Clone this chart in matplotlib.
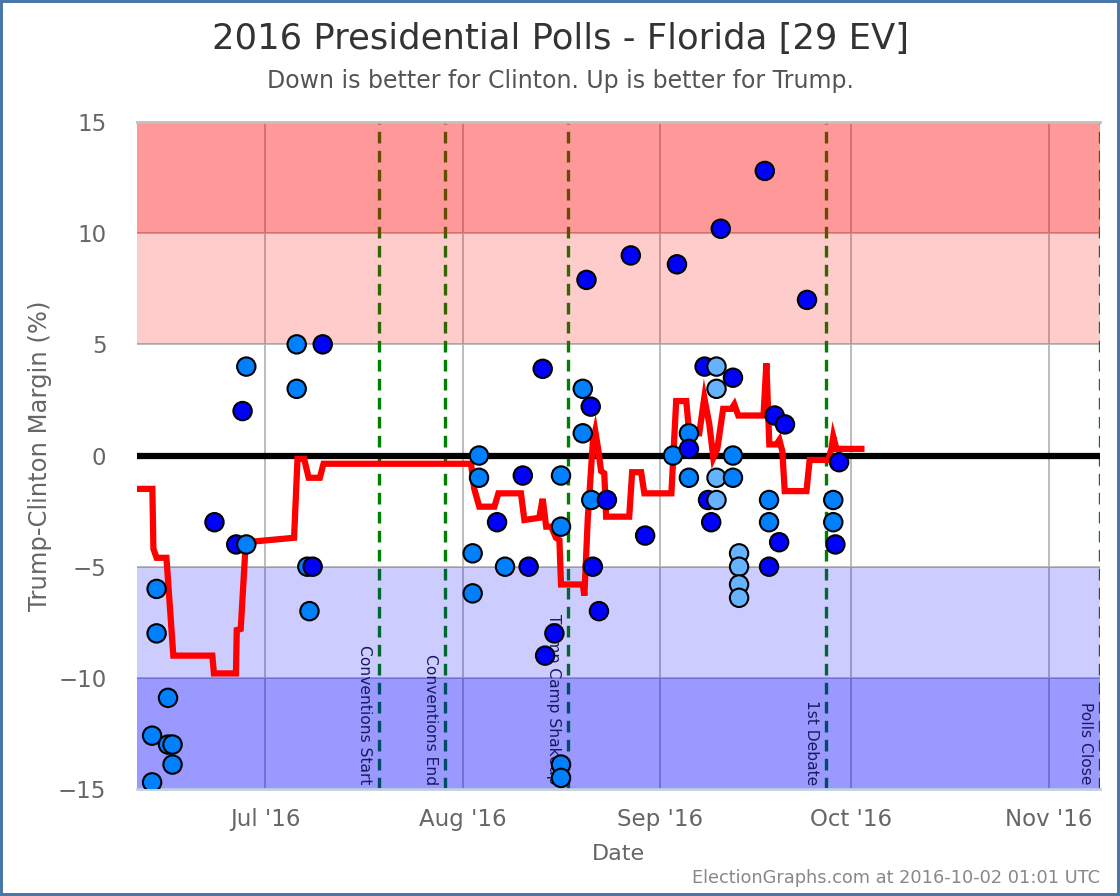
import matplotlib
matplotlib.use("Agg")
import matplotlib.pyplot as plt
import matplotlib.dates as mdates
import pandas as pd

plt.rcParams['font.family'] = ['DejaVu Sans']

# poll results (mid date, Trump-Clinton margin, shade)
poll_dates = [
    "2016-06-13 22:00", "2016-06-13 22:00", "2016-06-15 17:00", "2016-06-13 05:00",
    "2016-06-15 17:00", "2016-06-16 10:00", "2016-06-16 10:00", "2016-06-13 05:00",
    "2016-06-23 00:00", "2016-06-26 10:00", "2016-06-28 00:00", "2016-06-27 10:00",
    "2016-06-28 00:00", "2016-07-05 22:00", "2016-07-05 22:00", "2016-07-10 00:00",
    "2016-07-07 14:00", "2016-07-08 10:00", "2016-07-07 22:00", "2016-08-02 13:00",
    "2016-08-02 13:00", "2016-08-03 13:00", "2016-08-03 13:00", "2016-08-06 09:00",
    "2016-08-07 15:00", "2016-08-10 10:00", "2016-08-11 08:00", "2016-08-13 13:00",
    "2016-08-13 22:00", "2016-08-15 09:00", "2016-08-16 10:00", "2016-08-16 10:00",
    "2016-08-16 10:00", "2016-08-16 10:00", "2016-08-19 20:00", "2016-08-19 20:00",
    "2016-08-20 10:00", "2016-08-21 02:00", "2016-08-21 04:00", "2016-08-21 10:00",
    "2016-08-22 09:00", "2016-08-23 15:00", "2016-08-27 09:00", "2016-08-29 15:00",
    "2016-09-03 00:00", "2016-09-03 15:00", "2016-09-05 12:00", "2016-09-05 12:00",
    "2016-09-05 12:00", "2016-09-07 23:00", "2016-09-08 12:00", "2016-09-09 00:00",
    "2016-09-09 20:00", "2016-09-09 20:00", "2016-09-09 20:00", "2016-09-09 20:00",
    "2016-09-10 12:00", "2016-09-12 10:00", "2016-09-12 10:00", "2016-09-12 10:00",
    "2016-09-13 09:00", "2016-09-13 09:00", "2016-09-13 09:00", "2016-09-13 09:00",
    "2016-09-17 10:00", "2016-09-18 02:00", "2016-09-18 02:00", "2016-09-18 02:00",
    "2016-09-18 23:00", "2016-09-19 16:00", "2016-09-20 14:00", "2016-09-24 01:00",
    "2016-09-28 04:00", "2016-09-28 04:00", "2016-09-28 12:00", "2016-09-29 02:00",
]
poll_margins = [
    -6.0, -8.0, -10.9, -12.6, -13.0, -13.0, -13.9, -14.7,
    -3.0, -4.0, -4.0, 2.0, 4.0, 5.0, 3.0, 5.0,
    -5.0, -5.0, -7.0, -4.4, -6.2, 0.0, -1.0, -3.0,
    -5.0, -0.9, -5.0, 3.9, -9.0, -8.0, -0.9, -3.2,
    -13.9, -14.5, 3.0, 1.0, 7.9, 2.2, -2.0, -5.0,
    -7.0, -2.0, 9.0, -3.6, 0.0, 8.6, 1.0, 0.3,
    -1.0, 4.0, -2.0, -3.0, 4.0, 3.0, -1.0, -2.0,
    10.2, 3.5, 0.0, -1.0, -4.4, -5.0, -5.8, -6.4,
    12.8, -2.0, -3.0, -5.0, 1.8, -3.9, 1.4, 7.0,
    -2.0, -3.0, -4.0, -0.3,
]
poll_shades = list(
    "mmmmmmmm" "ddmdmmmd" "mdmmmmmd" "mdddddmm" "mmmmddmd"
    "ddddmdmd" "mdddllll" "ddmmllll" "dmmddddd" "mmdd"
)

# poll average line
avg_dates = [
    "2016-06-11 02:00", "2016-06-13 06:00", "2016-06-13 10:00", "2016-06-13 22:00",
    "2016-06-15 11:00", "2016-06-16 13:00", "2016-06-22 16:00", "2016-06-22 22:00",
    "2016-06-26 09:00", "2016-06-26 12:00", "2016-06-27 03:00", "2016-06-27 22:00",
    "2016-07-05 12:00", "2016-07-06 01:00", "2016-07-07 02:00", "2016-07-07 19:00",
    "2016-07-09 13:00", "2016-07-10 03:00", "2016-08-02 07:00", "2016-08-02 19:00",
    "2016-08-03 14:00", "2016-08-05 23:00", "2016-08-06 14:00", "2016-08-10 03:00",
    "2016-08-10 16:00", "2016-08-13 00:00", "2016-08-13 13:00", "2016-08-14 02:00",
    "2016-08-14 21:00", "2016-08-15 15:00", "2016-08-16 04:00", "2016-08-16 10:00",
    "2016-08-19 20:00", "2016-08-20 02:00", "2016-08-20 15:00", "2016-08-21 10:00",
    "2016-08-21 19:00", "2016-08-22 06:00", "2016-08-22 17:00", "2016-08-23 05:00",
    "2016-08-23 12:00", "2016-08-27 03:00", "2016-08-27 14:00", "2016-08-29 00:00",
    "2016-08-29 12:00", "2016-09-02 18:00", "2016-09-03 12:00", "2016-09-05 02:00",
    "2016-09-05 13:00", "2016-09-07 03:00", "2016-09-07 22:00", "2016-09-08 17:00",
    "2016-09-09 08:00", "2016-09-09 23:00", "2016-09-10 21:00", "2016-09-12 04:00",
    "2016-09-12 15:00", "2016-09-13 06:00", "2016-09-17 05:00", "2016-09-17 16:00",
    "2016-09-18 03:00", "2016-09-19 06:00", "2016-09-19 17:00", "2016-09-20 04:00",
    "2016-09-20 13:00", "2016-09-23 23:00", "2016-09-24 11:00", "2016-09-27 09:00",
    "2016-09-27 21:00", "2016-09-28 04:00", "2016-09-28 16:00", "2016-10-02 14:00",
]
avg_margins = [
    -1.5, -1.5, -4.2, -4.6, -4.6, -9.0, -9.0, -9.8,
    -9.8, -7.85, -7.8, -3.9, -3.7, -0.15, -0.15, -1.0,
    -1.0, -0.37, -0.37, -1.5, -2.3, -2.3, -1.7, -1.7,
    -2.9, -2.8, -1.95, -3.2, -3.2, -3.7, -3.8, -5.8,
    -5.8, -6.3, -2.8, 0.6, 1.1, 0.3, -0.7, -0.8,
    -2.75, -2.75, -0.75, -0.75, -1.7, -1.7, 2.45, 2.45,
    1.0, 1.0, 2.6, 1.4, -0.1, 0.3, 2.1, 2.1,
    2.3, 1.8, 1.8, 4.15, 0.5, 0.5, 0.7, 0.2,
    -1.6, -1.6, -0.2, -0.2, 0.3, 0.85, 0.3, 0.3,
]

# events
event_names = ["Conventions Start", "Conventions End", "Trump Camp Shakeup", "1st Debate", "Polls Close"]
event_dates = ["2016-07-18 21:00", "2016-07-29 06:00", "2016-08-17 12:00", "2016-09-27 01:00", "2016-11-09 00:00"]

# shaded bands: (low, high, color, alpha)
bands = [(10, 15, 'red', 0.4), (5, 10, 'red', 0.2), (-10, -5, 'blue', 0.2), (-15, -10, 'blue', 0.4)]

shade_colors = {'d': '#0000ff', 'm': '#0080ff', 'l': '#66b2ff'}

fig = plt.figure(figsize=(11.2, 8.96), dpi=100)
fig.patch.set_edgecolor('#4a76a8')
fig.patch.set_linewidth(3)
ax = fig.add_axes([0.1223, 0.1194, 0.8598, 0.7444])

x0 = pd.Timestamp("2016-06-10 20:00")
x1 = pd.Timestamp("2016-11-09 01:00")

ax.grid(True, color='#b0b0b0', linewidth=1.2, zorder=0)
ax.set_axisbelow(True)

for name, d in zip(event_names, event_dates):
    d = pd.Timestamp(d)
    ax.axvline(d, color='#008000', linewidth=2.4, dashes=(3.5, 2.2), zorder=1)
    ax.annotate(name, xy=(d, -15), xytext=(-5, 3), textcoords='offset points',
                rotation=270, ha='right', va='bottom', fontsize=11.2,
                color='#1a1a5e', zorder=2.5)

for lo, hi, c, a in bands:
    ax.axhspan(lo, hi, color=c, alpha=a, linewidth=0, zorder=2)

ax.axhline(0, color='black', linewidth=4.5, zorder=3)
ax.plot(pd.to_datetime(avg_dates), avg_margins, color='red', linewidth=4.5,
        solid_joinstyle='miter', zorder=4)
ax.scatter(pd.to_datetime(poll_dates), poll_margins,
           c=[shade_colors[s] for s in poll_shades], s=175,
           edgecolors='black', linewidths=1.5, zorder=5)

ax.set_xlim(x0, x1)
ax.set_ylim(-15, 15)
ax.set_yticks([-15, -10, -5, 0, 5, 10, 15])
ax.xaxis.set_major_locator(mdates.MonthLocator())
ax.xaxis.set_major_formatter(mdates.DateFormatter("%b '%y"))
ax.tick_params(length=0, labelsize=16.5, colors='#666666')
ax.tick_params(axis='x', pad=14)
ax.tick_params(axis='y', pad=22)
for s in ['left', 'right']:
    ax.spines[s].set_visible(False)
ax.spines['top'].set_color('#c0c0c0')
ax.spines['bottom'].set_color('#c0d0e0')
ax.spines['top'].set_linewidth(2)
ax.spines['bottom'].set_linewidth(2)

ax.set_xlabel("Date", fontsize=16, color='#666666', labelpad=9)
ax.set_ylabel("Trump-Clinton Margin (%)", fontsize=17.5, color='#666666', labelpad=4)

fig.text(0.5, 0.957, "2016 Presidential Polls - Florida [29 EV]", ha='center', va='center',
         fontsize=25.5, color='#333333')
fig.text(0.5, 0.910, "Down is better for Clinton. Up is better for Trump.", ha='center',
         va='center', fontsize=17, color='#555555')
fig.text(0.982, 0.020, "ElectionGraphs.com at 2016-10-02 01:01 UTC", ha='right',
         va='center', fontsize=12.8, color='#888888')

fig.savefig("out.png", dpi=100, edgecolor=fig.get_edgecolor())
